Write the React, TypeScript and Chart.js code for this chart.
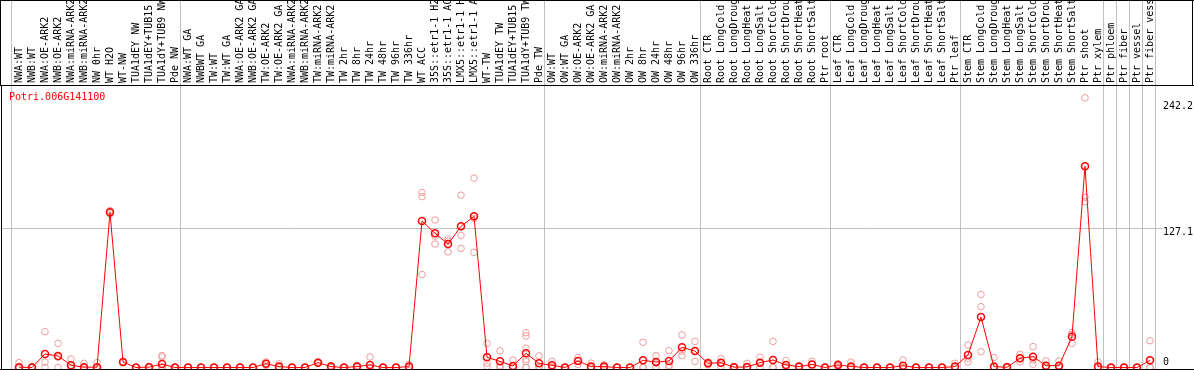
import { useEffect, useRef } from 'react';
import { Chart, registerables } from 'chart.js';

Chart.register(...registerables);

const geneId = 'Potri.006G141100';

const categories = [
  'NWA:WT', 'NWB:WT', 'NWA:OE-ARK2', 'NWB:OE-ARK2', 'NWA:miRNA-ARK2', 'NWB:miRNA-ARK2',
  'NW 0hr', 'WT H2O', 'WT-NW', 'TUA1dEY NW', 'TUA1dEY+TUB15 NW', 'TUA1dY+TUB9 NW', 'Pde NW',
  'NWA:WT GA', 'NWBWT GA', 'TW:WT', 'TW:WT GA', 'NWA:OE-ARK2 GA', 'NWB:OE-ARK2 GA',
  'TW:OE-ARK2', 'TW:OE-ARK2 GA', 'NWA:miRNA-ARK2 GA', 'NWB:miRNA-ARK2 GA', 'TW:miRNA-ARK2',
  'TW:miRNA-ARK2 GA', 'TW 2hr', 'TW 8hr', 'TW 24hr', 'TW 48hr', 'TW 96hr', 'TW 336hr',
  'WT ACC', '35S::etr1-1 H2O', '35S::etr1-1 ACC', 'LMX5::etr1-1 H2O', 'LMX5::etr1-1 ACC',
  'WT-TW', 'TUA1dEY TW', 'TUA1dEY+TUB15 TW', 'TUA1dY+TUB9 TW', 'Pde TW',
  'OW:WT', 'OW:WT GA', 'OW:OE-ARK2', 'OW:OE-ARK2 GA', 'OW:miRNA-ARK2', 'OW:miRNA-ARK2 GA',
  'OW 2hr', 'OW 8hr', 'OW 24hr', 'OW 48hr', 'OW 96hr', 'OW 336hr',
  'Root CTR', 'Root LongCold', 'Root LongDrought', 'Root LongHeat', 'Root LongSalt',
  'Root ShortCold', 'Root ShortDrought', 'Root ShortHeat', 'Root ShortSalt', 'Ptr root',
  'Leaf CTR', 'Leaf LongCold', 'Leaf LongDrought', 'Leaf LongHeat', 'Leaf LongSalt',
  'Leaf ShortCold', 'Leaf ShortDrought', 'Leaf ShortHeat', 'Leaf ShortSalt', 'Ptr leaf',
  'Stem CTR', 'Stem LongCold', 'Stem LongDrought', 'Stem LongHeat', 'Stem LongSalt',
  'Stem ShortCold', 'Stem ShortDrought', 'Stem ShortHeat', 'Stem ShortSalt', 'Ptr shoot',
  'Ptr xylem', 'Ptr phloem', 'Ptr fiber', 'Ptr vessel', 'Ptr fiber vessel',
];

const means = [
  0.2, 0, 12.3, 10.5, 2, 0.3, 0.3, 141.4, 5, 0, 0.3, 3.2, 0,
  0, 0, 0, 0, 0, 0, 3.5, 0.8, 0, 0, 4.4, 0.8, 0, 0.8, 2.3, 0, 0, 0.8,
  133.5, 122.3, 112.5, 128.6, 137.8, 9.3, 5.6, 1.4, 12.9, 3.8,
  2, 0, 5.9, 0.8, 0.8, 0, 0, 6.5, 5, 5.9, 18.4, 15,
  3.8, 4.4, 0.3, 0.5, 4.4, 6.8, 2.3, 0.8, 2.8, 0,
  2.3, 1, 0, 0, 0, 1.6, 0, 0, 0, 0.8,
  11.4, 46, 0.8, 0.2, 8.4, 9.9, 1.7, 1.7, 28, 183.3,
  0.8, 0, 0, 0, 6.5,
];

const replicates = [
  [4.4, 0, 0], [1, 0, 0], [32.6, 5, 0], [22, 9.5, 0], [7.7, 0, 0], [3.8, 0, 0],
  [4.4, 0, 0], [143, 141.4, 139.9], [5.5, 5, 4.5], [0, 0, 0], [1, 0, 0],
  [10.8, 9.6, 0, 0, 0, 0], [0, 0, 0],
  [0, 0, 0], [0, 0, 0], [0, 0, 0], [0, 0, 0], [0, 0, 0], [0, 0, 0], [5, 3.5, 2],
  [3.3, 0, 0], [0, 0, 0], [0, 0, 0], [5, 4.4, 3.8], [2, 0.5, 0], [0, 0, 0],
  [2, 0.5, 0], [9.6, 0, 0, 0], [0, 0, 0], [0, 0, 0], [2.8, 0, 0],
  [159.4, 155.7, 84.7], [134.4, 119.7, 112.5], [117, 115, 105.4], [157, 120.4, 108.5],
  [172.5, 136, 104.9], [22, 4, 1], [15.3, 1.5, 0], [6.8, 0, 0],
  [31.7, 28.7, 17.5, 7.5, 5.5, 0, 0], [10.5, 1, 0],
  [5.6, 0.5, 0], [0, 0, 0], [9, 5.9, 2.7], [4, 0, 0], [2.5, 0, 0], [0, 0, 0], [0, 0, 0],
  [23, 0, 0], [10.8, 4, 0], [15.3, 2, 0], [29.6, 15, 10.8], [23.8, 15, 5.6],
  [5, 3.8, 2.5], [8, 4, 1], [1, 0, 0], [3.8, 0, 0], [9.3, 4, 0], [23.8, 0, 0],
  [6.4, 0.5, 0], [1.5, 0.8, 0], [5.6, 2.8, 0], [0, 0, 0],
  [3.5, 2.3, 1], [4.9, 0, 0], [0, 0, 0], [0, 0, 0], [0, 0, 0], [6.8, 0, 0],
  [0, 0, 0], [0, 0, 0], [0, 0, 0], [3.8, 0, 0],
  [20.5, 8.4, 5], [66.5, 55.4, 14.4], [9, 0, 0], [1, 0, 0], [12, 8.4, 5], [19, 7, 3],
  [6, 0, 0], [6, 0, 0], [31.7, 30, 22], [245.7, 155.2, 151.1],
  [4.9, 0, 0], [0, 0, 0], [0, 0, 0], [0, 0, 0], [24.4, 0, 0],
];

const yTicks = [0, 127.1, 242.2];
const groupEnds = [-1, 12, 40, 52, 62, 72, 83, 84, 85, 86, 87];

const FONT = "'DejaVu Sans Mono', monospace";

export default function App() {
  const ref = useRef<HTMLCanvasElement>(null);

  useEffect(() => {
    const canvas = ref.current;
    if (!canvas) return;

    const framePlugin = {
      id: 'frame',
      beforeDatasetsDraw(chart: any) {
        const { ctx, chartArea, scales } = chart;
        const xs = scales.x;
        ctx.save();
        ctx.strokeStyle = '#c0c0c0';
        ctx.lineWidth = 1;
        for (const g of groupEnds) {
          const px = Math.round(xs.getPixelForValue(g + 0.37)) + 0.5;
          ctx.beginPath();
          ctx.moveTo(px, 0);
          ctx.lineTo(px, chartArea.bottom);
          ctx.stroke();
        }
        ctx.restore();
      },
      afterDraw(chart: any) {
        const { ctx, chartArea, width, scales } = chart;
        ctx.save();
        ctx.strokeStyle = '#000000';
        ctx.lineWidth = 1;
        const top = chartArea.top + 0.5;
        const bottom = chartArea.bottom + 0.5;
        ctx.beginPath();
        ctx.moveTo(0, 0.5); ctx.lineTo(width, 0.5);
        ctx.moveTo(0, top); ctx.lineTo(width, top);
        ctx.moveTo(width - 1.5, 0); ctx.lineTo(width - 1.5, top);
        ctx.moveTo(0.5, 0); ctx.lineTo(0.5, top);
        ctx.moveTo(chartArea.left + 0.5, top); ctx.lineTo(chartArea.left + 0.5, bottom);
        ctx.moveTo(0, bottom); ctx.lineTo(width, bottom);
        ctx.stroke();

        // y-axis tick labels, placed from the y scale
        const ys = scales.y;
        ctx.fillStyle = '#000000';
        ctx.font = `10px ${FONT}`;
        ctx.textAlign = 'left';
        ctx.textBaseline = 'middle';
        for (const t of ys.ticks) {
          const py = ys.getPixelForValue(t.value);
          const dy = t.value === 0 ? -5.5 : 4.5;
          ctx.fillText(String(t.value), ys.left + 8, py + dy);
        }

        ctx.fillStyle = '#ff0000';
        ctx.fillText(geneId, chartArea.left + 8, chartArea.top + 12);
        ctx.restore();
      },
    };

    const chart = new Chart(canvas, {
      type: 'line',
      data: {
        datasets: [
          {
            label: 'mean',
            data: means.map((v, i) => ({ x: i, y: v })),
            borderColor: '#ff0000',
            borderWidth: 1,
            pointRadius: 3.5,
            pointBorderWidth: 1.5,
            pointBorderColor: '#ff0000',
            pointBackgroundColor: 'rgba(0,0,0,0)',
            tension: 0,
            fill: false,
            order: 0,
          },
          {
            label: 'replicates',
            data: replicates.flatMap((r, i) => r.map((v) => ({ x: i, y: v }))),
            showLine: false,
            pointRadius: 3.3,
            pointBorderWidth: 1,
            pointBorderColor: '#ee9c9c',
            pointBackgroundColor: 'rgba(0,0,0,0)',
            order: 1,
          },
        ],
      },
      options: {
        animation: false,
        responsive: false,
        devicePixelRatio: 1,
        layout: { autoPadding: false, padding: { left: 1, bottom: 1, top: 0, right: 0 } },
        plugins: { legend: { display: false }, tooltip: { enabled: false } },
        scales: {
          x: {
            type: 'linear',
            position: 'top',
            min: -1.385,
            max: 87.385,
            bounds: 'data',
            afterBuildTicks: (s: any) => {
              s.ticks = categories.map((_, i) => ({ value: i }));
            },
            afterFit: (s: any) => {
              s.height = 85;
              s.paddingLeft = 0;
              s.paddingRight = 0;
            },
            ticks: {
              autoSkip: false,
              minRotation: 90,
              maxRotation: 90,
              padding: 2,
              labelOffset: 12,
              color: '#000000',
              font: { family: FONT, size: 10 },
              callback: (v: any) => categories[v as number] ?? '',
            },
            grid: { display: false, drawTicks: false },
            border: { display: false },
          },
          y: {
            type: 'linear',
            position: 'right',
            min: -1.367,
            max: 257.39,
            bounds: 'data',
            afterBuildTicks: (s: any) => {
              s.ticks = yTicks.map((v) => ({ value: v }));
            },
            afterFit: (s: any) => {
              s.width = 39;
              s.paddingTop = 0;
              s.paddingBottom = 0;
            },
            ticks: { display: false },
            grid: {
              drawTicks: true,
              tickLength: 7,
              lineWidth: 1,
              color: (c: any) => (c.tick && c.tick.value === 127.1 ? '#c0c0c0' : 'rgba(0,0,0,0)'),
            },
            border: { display: false },
          },
        },
      },
      plugins: [framePlugin],
    } as any);

    return () => chart.destroy();
  }, []);

  return (
    <div style={{ position: 'fixed', left: 0, top: 0, width: 1194, height: 370, background: '#ffffff' }}>
      <canvas ref={ref} width={1194} height={370} style={{ display: 'block', width: 1194, height: 370 }} />
    </div>
  );
}
